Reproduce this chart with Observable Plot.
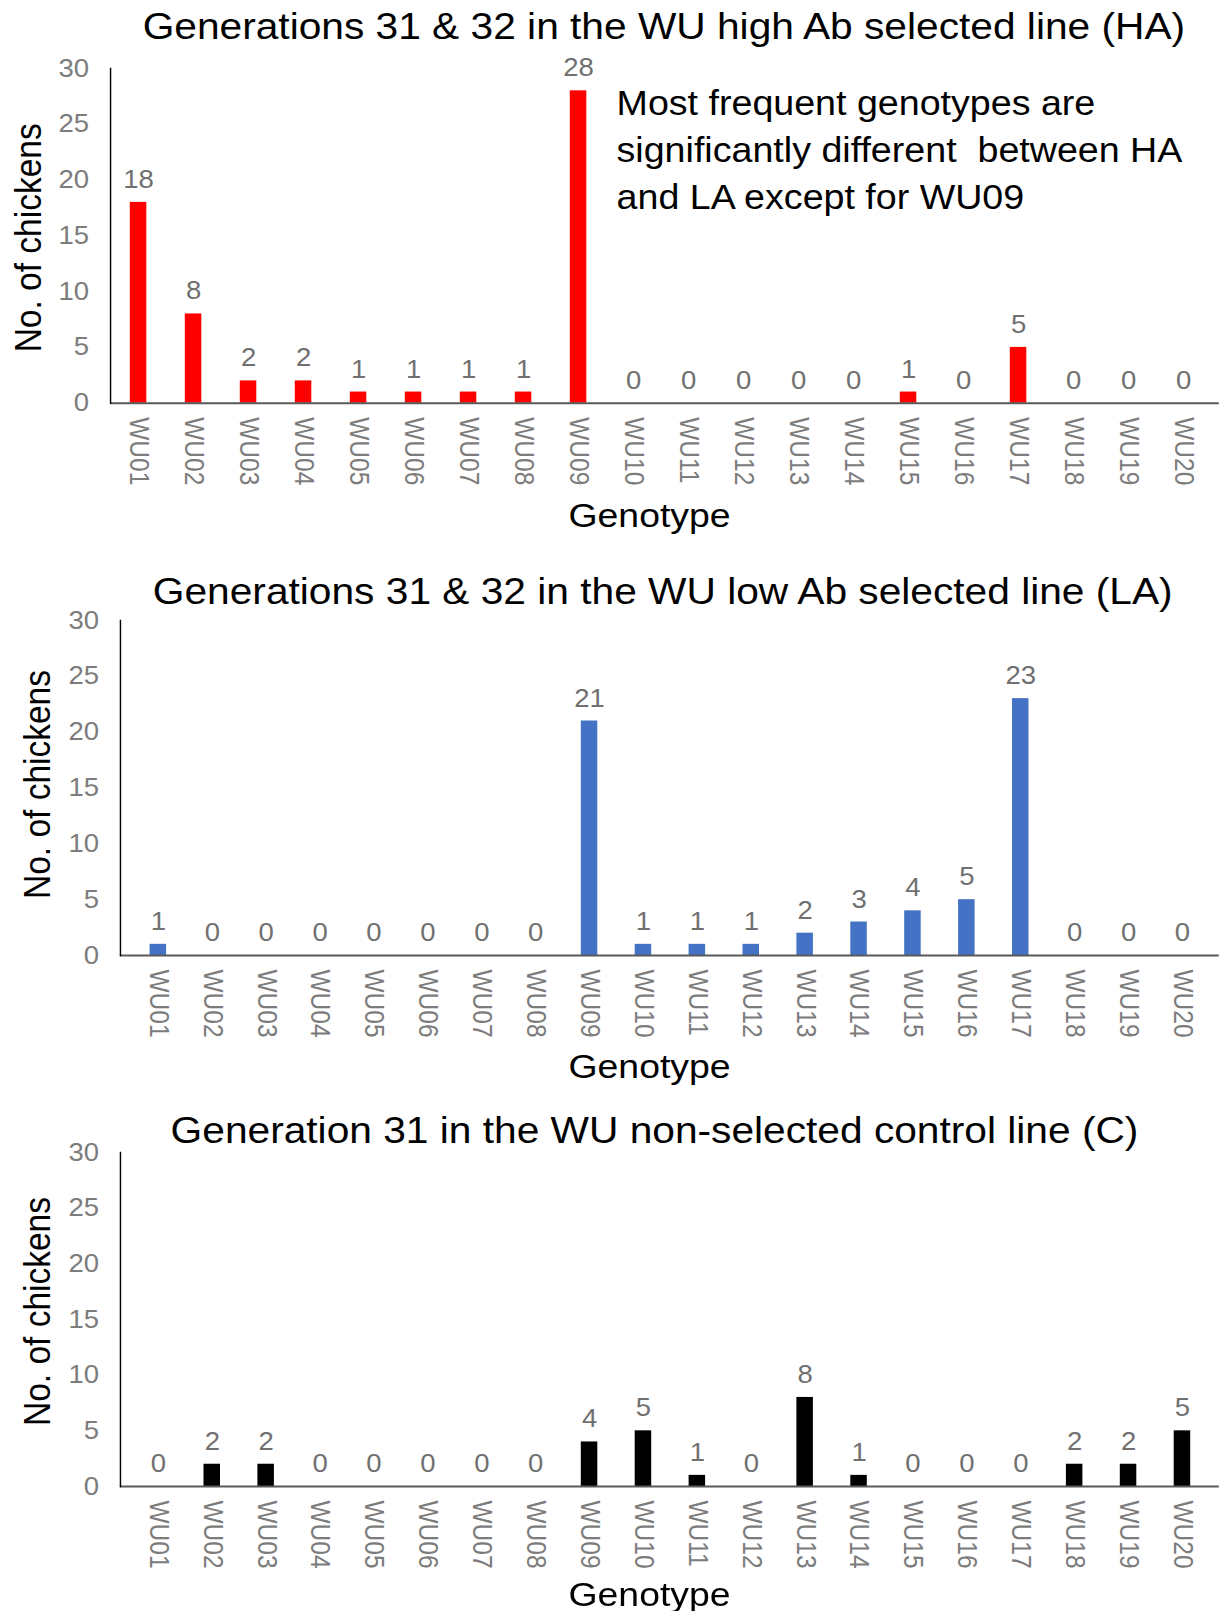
<!DOCTYPE html>
<html>
<head>
<meta charset="utf-8">
<script src="https://cdn.jsdelivr.net/npm/d3@7"></script>
<script src="https://cdn.jsdelivr.net/npm/@observablehq/plot@0.6"></script>
<style>
  html, body { margin: 0; padding: 0; background: #ffffff; }
  #wrap { width: 1108px; transform: scaleX(1.1); transform-origin: 0 0; }
  #wrap svg { display: block; overflow: visible; }
</style>
</head>
<body>
<div id="wrap"></div>
<script>
// ---- data ----
const genotypes = ["WU01","WU02","WU03","WU04","WU05","WU06","WU07","WU08","WU09","WU10",
                   "WU11","WU12","WU13","WU14","WU15","WU16","WU17","WU18","WU19","WU20"];
const haCounts = [18, 8, 2, 2, 1, 1, 1, 1, 28, 0, 0, 0, 0, 0, 1, 0, 5, 0, 0, 0];
const laCounts = [1, 0, 0, 0, 0, 0, 0, 0, 21, 1, 1, 1, 2, 3, 4, 5, 23, 0, 0, 0];
const cCounts  = [0, 2, 2, 0, 0, 0, 0, 0, 4, 5, 1, 0, 8, 1, 0, 0, 0, 2, 2, 5];
const yTicks = [0, 5, 10, 15, 20, 25, 30];
const titles = [
  "Generations 31 & 32 in the WU high Ab selected line (HA)",
  "Generations 31 & 32 in the WU low Ab selected line (LA)",
  "Generation 31 in the WU non-selected control line (C)"
];
const xLabel = "Genotype";
const yLabel = "No. of chickens";
const annotation = "Most frequent genotypes are\nsignificantly different  between HA\nand LA except for WU09";

const GRAY = "#707070";
const TICKGRAY = "#7c7c7c";
const FONT = "'Liberation Sans', Arial, Helvetica, sans-serif";

function panel(o) {
  const data = genotypes.map((g, i) => ({genotype: g, count: o.counts[i]}));
  const marks = [
    Plot.barY(data, {x: "genotype", y: "count", fill: o.color}),
    Plot.ruleY([0], {stroke: "#595959", strokeWidth: 2}),
    Plot.frame({anchor: "left", stroke: "#000000", strokeWidth: 1.3}),
    Plot.axisY({ticks: yTicks, tickSize: 0, tickPadding: 19.5, fontSize: 25, fill: TICKGRAY, label: null}),
    Plot.axisX({tickRotate: 90, tickSize: 0, tickPadding: 14, fontSize: 24.5, fill: TICKGRAY, label: null}),
    Plot.text(data, {x: "genotype", y: "count", text: d => String(d.count),
      lineAnchor: "bottom", dy: -14.5, fontSize: 25, fill: GRAY}),
    Plot.text([o.title], {frameAnchor: "top", text: d => d, textAnchor: "middle", lineAnchor: "bottom",
      dx: o.titleDx, dy: o.titleDy, fontSize: 37, fill: "#000000"}),
    Plot.text([xLabel], {frameAnchor: "bottom", text: d => d, textAnchor: "middle", lineAnchor: "bottom",
      dx: o.xlabDx, dy: o.xlabDy, fontSize: 34, fill: "#000000"}),
    Plot.text([yLabel], {frameAnchor: "left", text: d => d, textAnchor: "middle", lineAnchor: "middle",
      rotate: -90, dx: o.ylabDx, dy: o.ylabDy, fontSize: 33.5, fill: "#000000"})
  ];
  if (o.note) {
    marks.push(Plot.text([o.note], {frameAnchor: "top-left", text: d => d, textAnchor: "start",
      lineAnchor: "bottom", lineHeight: 1.36, dx: 460, dy: 140, fontSize: 34.2, fill: "#000000"}));
  }
  return Plot.plot({
    width: 1108,
    height: o.height,
    marginTop: o.marginTop,
    marginBottom: o.marginBottom,
    marginLeft: o.marginLeft,
    marginRight: 0,
    style: {fontFamily: FONT, fontSize: "25px", background: "#ffffff", overflow: "visible"},
    x: {domain: genotypes, paddingInner: 0.7, paddingOuter: o.outer, align: o.align},
    y: {domain: [0, 30]},
    marks
  });
}

const wrap = document.getElementById("wrap");
wrap.appendChild(panel({counts: haCounts, color: "#ff0000", title: titles[0], height: 550,
  marginTop: 68, marginBottom: 147.3, marginLeft: 100, outer: 0.424, align: 0.42,
  titleDx: -1, titleDy: -29.7, xlabDx: -14, xlabDy: 124, ylabDx: -74, ylabDy: 2, note: annotation}));
wrap.appendChild(panel({counts: laCounts, color: "#4472c4", title: titles[1], height: 535,
  marginTop: 70, marginBottom: 130, marginLeft: 109, outer: 0.35, align: 0.5,
  titleDx: -6.5, titleDy: -16.7, xlabDx: -18.5, xlabDy: 122, ylabDx: -74.5, ylabDy: -3.5}));
wrap.appendChild(panel({counts: cCounts, color: "#000000", title: titles[2], height: 526,
  marginTop: 67, marginBottom: 125, marginLeft: 109, outer: 0.35, align: 0.5,
  titleDx: -14, titleDy: -10, xlabDx: -18.5, xlabDy: 119, ylabDx: -74.5, ylabDy: -8}));
</script>
</body>
</html>
